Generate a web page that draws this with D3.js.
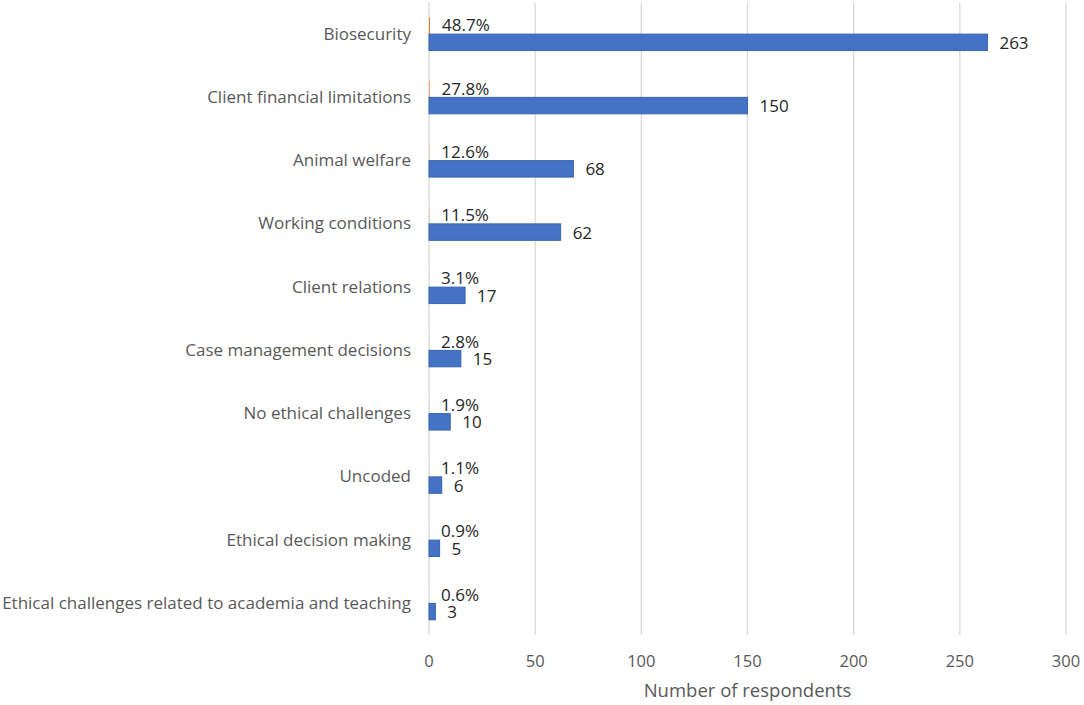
<!DOCTYPE html>
<html>
<head>
<meta charset="utf-8">
<script src="https://cdn.jsdelivr.net/npm/d3@7"></script>
<style>
    body { margin: 0; background: #fff; }
    text { font-family: "Open Sans", Lato, sans-serif; }
</style>
</head>
<body>
<svg id="chart" width="1084" height="705"></svg>
<script>
const categories = [
    "Biosecurity",
    "Client financial limitations",
    "Animal welfare",
    "Working conditions",
    "Client relations",
    "Case management decisions",
    "No ethical challenges",
    "Uncoded",
    "Ethical decision making",
    "Ethical challenges related to academia and teaching",
];
const counts = [263, 150, 68, 62, 17, 15, 10, 6, 5, 3];
const shares = [0.487, 0.278, 0.126, 0.115, 0.031, 0.028, 0.019, 0.011, 0.009, 0.006];
const xTicks = [0, 50, 100, 150, 200, 250, 300];

const colors = {
    count: "#4472C4",
    countStroke: "#3A64B0",
    share: "#ED7D31",
    grid: "#D9D9D9",
    axisText: "#595959",
    label: "#262626",
};

const margin = { top: 2.5, right: 18, bottom: 70, left: 429 };
const width = 1084;
const height = 705;

const svg = d3.select("#chart");

const x = d3
    .scaleLinear()
    .domain([0, 300])
    .range([margin.left, width - margin.right]);

const y = d3
    .scaleBand()
    .domain(categories)
    .range([margin.top, height - margin.bottom])
    .paddingInner(0.48)
    .paddingOuter(0.24);

// two series in each band: share on top, count below
const sub = d3.scaleBand().domain(["share", "count"]).range([0, y.bandwidth()]);

// gridlines
svg.append("g")
    .selectAll("line")
    .data(xTicks)
    .join("line")
    .attr("x1", (d) => x(d))
    .attr("x2", (d) => x(d))
    .attr("y1", margin.top)
    .attr("y2", height - margin.bottom)
    .attr("stroke", colors.grid)
    .attr("stroke-width", 1.3);

// x tick labels
svg.append("g")
    .selectAll("text")
    .data(xTicks)
    .join("text")
    .attr("x", (d) => x(d))
    .attr("y", height - margin.bottom + 28)
    .attr("text-anchor", "middle")
    .attr("dominant-baseline", "middle")
    .attr("font-size", 16.5)
    .attr("fill", colors.axisText)
    .text((d) => d);

svg.append("text")
    .attr("x", (x(0) + x(300)) / 2)
    .attr("y", height - 13)
    .attr("text-anchor", "middle")
    .attr("dominant-baseline", "middle")
    .attr("font-size", 18.5)
    .attr("fill", colors.axisText)
    .text("Number of respondents");

// category labels
svg.append("g")
    .selectAll("text")
    .data(categories)
    .join("text")
    .attr("x", margin.left - 18)
    .attr("y", (d) => y(d) + y.bandwidth() / 2 + 1)
    .attr("text-anchor", "end")
    .attr("dominant-baseline", "middle")
    .attr("font-size", 17)
    .attr("fill", colors.axisText)
    .text((d) => d);

const rows = categories.map((c, i) => ({ cat: c, count: counts[i], share: shares[i] }));

// share bars (tiny on the count axis)
svg.append("g")
    .selectAll("rect")
    .data(rows)
    .join("rect")
    .attr("x", x(0))
    .attr("y", (d) => y(d.cat) + sub("share"))
    .attr("width", (d) => x(d.share) - x(0))
    .attr("height", sub.bandwidth())
    .attr("fill", colors.share);

// count bars
svg.append("g")
    .selectAll("rect")
    .data(rows)
    .join("rect")
    .attr("x", x(0))
    .attr("y", (d) => y(d.cat) + sub("count"))
    .attr("width", (d) => x(d.count) - x(0))
    .attr("height", sub.bandwidth())
    .attr("fill", colors.count)
    .attr("stroke", colors.countStroke)
    .attr("stroke-width", 1);

// share labels
svg.append("g")
    .selectAll("text")
    .data(rows)
    .join("text")
    .attr("x", (d) => x(d.share) + 12)
    .attr("y", (d) => y(d.cat) + sub("share") + sub.bandwidth() / 2 + 1)
    .attr("dominant-baseline", "middle")
    .attr("font-size", 17)
    .attr("fill", colors.label)
    .text((d) => d3.format(".1%")(d.share));

// count labels
svg.append("g")
    .selectAll("text")
    .data(rows)
    .join("text")
    .attr("x", (d) => x(d.count) + 12)
    .attr("y", (d) => y(d.cat) + sub("count") + sub.bandwidth() / 2 + 2)
    .attr("dominant-baseline", "middle")
    .attr("font-size", 17)
    .attr("fill", colors.label)
    .text((d) => d.count);
</script>
</body>
</html>
